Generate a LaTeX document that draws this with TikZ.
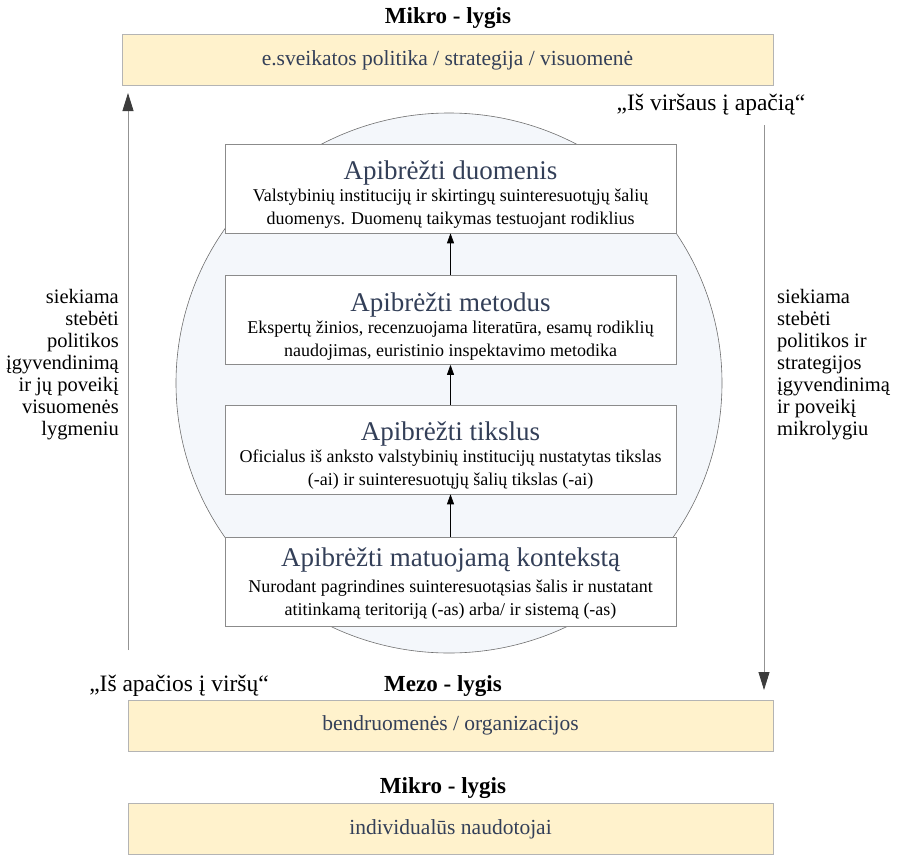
\documentclass[tikz,border=0pt]{standalone}
\usepackage{fontspec}
\setmainfont{Liberation Serif}
\usetikzlibrary{arrows.meta}
\definecolor{levelfill}{HTML}{FFF2CC}
\definecolor{levelline}{HTML}{B4B4B4}
\definecolor{ringfill}{HTML}{F4F7FB}
\definecolor{ringline}{HTML}{6E6E6E}
\definecolor{headtext}{HTML}{333F58}
\definecolor{arrowgray}{HTML}{3C3C3C}
\tikzset{
  levelbox/.style={draw=levelline, fill=levelfill, line width=0.8pt, minimum width=645pt, minimum height=51pt, inner sep=0pt,
    font=\fontsize{21.5}{24}\selectfont, text=headtext},
  leveltitle/.style={font=\fontsize{23}{26}\selectfont\bfseries, inner sep=0pt, anchor=base},
  stagebox/.style={draw=ringline!80, fill=white, line width=0.6pt, minimum width=451pt, minimum height=89pt, inner sep=0pt},
  stagehead/.style={font=\fontsize{27}{30}\selectfont, text=headtext, inner sep=0pt, anchor=base},
  stagebody/.style={font=\fontsize{18}{23}\selectfont, align=center, inner sep=0pt, anchor=north},
  sidetext/.style={font=\fontsize{20.5}{22}\selectfont, inner sep=0pt},
  quotelabel/.style={font=\fontsize{23.5}{26}\selectfont, inner sep=0pt, anchor=base},
  flow/.style={-{Triangle[length=10pt,width=7pt]}, line width=0.7pt},
  sideflow/.style={-{Triangle[length=18pt,width=11pt,color=arrowgray]}, draw=gray!85, line width=0.8pt},
}
% first-line strut: fixes the top of multi-line texts relative to their first baseline
\newcommand{\bodystrut}{\rule{0pt}{14pt}}
\newcommand{\sidestrut}{\rule{0pt}{16pt}}
\begin{document}
\begin{tikzpicture}[x=1pt,y=-1pt]
\useasboundingbox (0,0) rectangle (899,854);

% levels
\node[leveltitle] (toptitle) at (448,23) {Mikro - lygis};
\node[levelbox, minimum width=651pt] (policy) at (447.5,60) {e.sveikatos politika / strategija / visuomenė};

\node[leveltitle] (mezotitle) at (443,691) {Mezo - lygis};
\node[levelbox] (mezo) at (450.5,725.5) {bendruomenės / organizacijos};

\node[leveltitle] (mikrotitle) at (443,793) {Mikro - lygis};
\node[levelbox] (mikro) at (450.5,829) {individualūs naudotojai};

% background ring
\draw[draw=ringline, fill=ringfill, line width=0.6pt] (449,383) ellipse (273pt and 270pt);

% stages
\node[stagebox] (data) at (450.5,188.5) {};
\node[stagehead] (datahead) at ([yshift=-36pt]data.north) {Apibrėžti duomenis};
\node[stagebody] (databody) at ([yshift=-44pt]data.north) {\bodystrut Valstybinių institucijų ir skirtingų suinteresuotųjų šalių\\duomenys. Duomenų taikymas testuojant rodiklius};

\node[stagebox] (method) at (450.5,320) {};
\node[stagehead] (methodhead) at ([yshift=-36pt]method.north) {Apibrėžti metodus};
\node[stagebody] (methodbody) at ([yshift=-44pt]method.north) {\bodystrut Ekspertų žinios, recenzuojama literatūra, esamų rodiklių\\naudojimas, euristinio inspektavimo metodika};

\node[stagebox] (goal) at (450.5,449.5) {};
\node[stagehead] (goalhead) at ([yshift=-36pt]goal.north) {Apibrėžti tikslus};
\node[stagebody] (goalbody) at ([yshift=-44pt]goal.north) {\bodystrut Oficialus iš anksto valstybinių institucijų nustatytas tikslas\\(-ai) ir suinteresuotųjų šalių tikslas (-ai)};

\node[stagebox] (context) at (450.5,581.5) {};
\node[stagehead] (contexthead) at ([yshift=-30pt]context.north) {Apibrėžti matuojamą kontekstą};
\node[stagebody] (contextbody) at ([yshift=-42pt]context.north) {\bodystrut Nurodant pagrindines suinteresuotąsias šalis ir nustatant\\atitinkamą teritoriją (-as) arba/ ir sistemą (-as)};

\draw[flow] (context) -- (goal);
\draw[flow] (goal) -- (method);
\draw[flow] (method) -- (data);

% bottom-up and top-down directions
\coordinate (upstart) at (128,650);
\coordinate (upend) at (128,93);
\coordinate (downstart) at (764,125);
\coordinate (downend) at (764,690);
\draw[sideflow] (upstart) -- (upend);
\draw[sideflow] (downstart) -- (downend);

\node[quotelabel] (toplabel) at (711,110) {„Iš viršaus į apačią“};
\node[quotelabel] (bottomlabel) at (179,691) {„Iš apačios į viršų“};

\node[sidetext, align=right, anchor=north east] (lefttext) at (119,287) {\sidestrut siekiama\\stebėti\\politikos\\įgyvendinimą\\ir jų poveikį\\visuomenės\\lygmeniu};
\node[sidetext, align=left, anchor=north west] (righttext) at (777,287) {\sidestrut siekiama\\stebėti\\politikos ir\\strategijos\\įgyvendinimą\\ir poveikį\\mikrolygiu};
\end{tikzpicture}
\end{document}
